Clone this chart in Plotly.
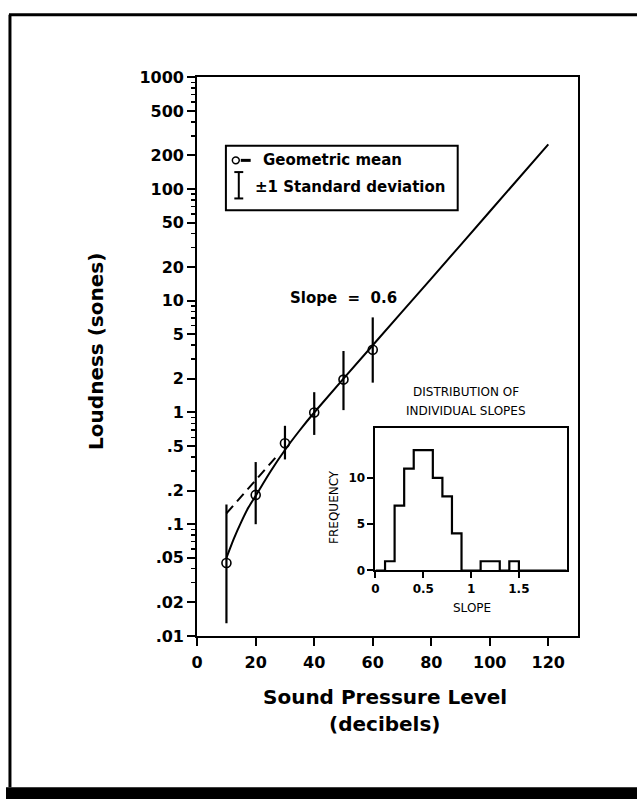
import plotly.graph_objects as go

W, H = 637, 809

# ---------------- data ----------------
spl_db = [10, 20, 30, 40, 50, 60]
mean_sones = [0.045, 0.183, 0.53, 1.0, 1.97, 3.65]
sd_low = [0.013, 0.10, 0.38, 0.63, 1.05, 1.85]
sd_high = [0.15, 0.36, 0.76, 1.52, 3.55, 7.1]

fit_db = [10, 12.5, 15, 17.5, 20, 25, 30, 35, 40, 60, 80, 100, 120]
fit_sones = [0.05, 0.074, 0.104, 0.141, 0.18, 0.295, 0.462, 0.69, 1.0, 4.0, 15.8, 63.0, 251.0]

ext_db = [10, 28]
ext_sones = [0.125, 0.43]

slope_bin_edges = [0.0, 0.1, 0.2, 0.3, 0.4, 0.5, 0.6, 0.7, 0.8, 0.9, 1.0,
                   1.1, 1.2, 1.3, 1.4, 1.5, 1.6, 1.7, 1.8, 1.9, 2.0]
slope_counts = [0, 1, 7, 11, 13, 13, 10, 8, 4, 0, 0, 1, 1, 0, 1, 0, 0, 0, 0, 0]

y_tick_vals = [0.01, 0.02, 0.05, 0.1, 0.2, 0.5, 1, 2, 5, 10, 20, 50, 100, 200, 500, 1000]
y_tick_text = [".01", ".02", ".05", ".1", ".2", ".5", "1", "2", "5", "10", "20", "50",
               "100", "200", "500", "1000"]
y_minor_mantissas = [3, 4, 6, 7, 8, 9]
y_decades = [0.01, 0.1, 1, 10, 100]
x_tick_vals = [0, 20, 40, 60, 80, 100, 120]
inset_x_ticks = [0, 0.5, 1, 1.5]
inset_x_text = ["0", "0.5", "1", "1.5"]
inset_y_ticks = [0, 5, 10]

# ---------------- helpers: window pixel -> paper fraction ----------------
def px(x):
    return x / W

def py(y):
    return 1 - y / H

BOLD = dict(family="DejaVu Sans", color="black", weight="bold")

fig = go.Figure()

fig.add_trace(go.Scatter(x=fit_db, y=fit_sones, mode="lines",
                         line=dict(color="black", width=2, shape="spline", smoothing=0.6),
                         xaxis="x", yaxis="y", hoverinfo="skip"))
fig.add_trace(go.Scatter(x=ext_db, y=ext_sones, mode="lines",
                         line=dict(color="black", width=2, dash="10px,6px"),
                         xaxis="x", yaxis="y", hoverinfo="skip"))
fig.add_trace(go.Scatter(
    x=spl_db, y=mean_sones, mode="markers",
    marker=dict(symbol="circle-open", size=9, color="black", line=dict(width=1.6, color="black")),
    error_y=dict(type="data", symmetric=False,
                 array=[h - m for h, m in zip(sd_high, mean_sones)],
                 arrayminus=[m - l for m, l in zip(mean_sones, sd_low)],
                 width=0, thickness=2.2, color="black"),
    xaxis="x", yaxis="y", hoverinfo="skip"))

fig.add_trace(go.Scatter(x=slope_bin_edges, y=slope_counts + [slope_counts[-1]],
                         mode="lines", line=dict(color="black", width=2.2, shape="hv"),
                         xaxis="x2", yaxis="y2", hoverinfo="skip"))

minor_vals = [d * m for d in y_decades for m in y_minor_mantissas]

fig.update_layout(
    width=W, height=H, margin=dict(l=0, r=0, t=0, b=0),
    paper_bgcolor="white", plot_bgcolor="white", showlegend=False,
    hovermode=False,
    xaxis=dict(domain=[px(193), px(577)], range=[0, 130], anchor="y",
               tickmode="array", tickvals=x_tick_vals, ticks="outside", ticklen=8,
               tickwidth=2, tickcolor="black", showline=True, linewidth=2,
               linecolor="black", mirror=True, showgrid=False, zeroline=False,
               tickfont=dict(size=16, **BOLD), ticklabelstandoff=3),
    yaxis=dict(domain=[py(642), py(70)], type="log", range=[-2, 3], anchor="x",
               tickmode="array", tickvals=y_tick_vals, ticktext=y_tick_text,
               ticks="outside", ticklen=8, tickwidth=2, tickcolor="black",
               minor=dict(tickmode="array", tickvals=minor_vals, ticks="outside",
                          ticklen=4, tickwidth=1.5, tickcolor="black", showgrid=False),
               showline=True, linewidth=2, linecolor="black", mirror=True,
               showgrid=False, zeroline=False,
               tickfont=dict(size=16, **BOLD)),
    xaxis2=dict(domain=[px(373), px(566)], range=[0, 2.0], anchor="y2",
                tickmode="array", tickvals=inset_x_ticks, ticktext=inset_x_text,
                ticks="outside", ticklen=6, tickwidth=2, tickcolor="black",
                showline=True, linewidth=2, linecolor="black", mirror=True,
                showgrid=False, zeroline=False,
                tickfont=dict(size=12, **BOLD)),
    yaxis2=dict(domain=[py(575), py(429)], range=[0, 15.4], anchor="x2",
                tickmode="array", tickvals=inset_y_ticks,
                ticks="outside", ticklen=6, tickwidth=2, tickcolor="black",
                showline=True, linewidth=2, linecolor="black", mirror=True,
                showgrid=False, zeroline=False,
                tickfont=dict(size=12, **BOLD)),
)

shapes = []
# outer frame
shapes.append(dict(type="line", xref="paper", yref="paper", x0=px(3), x1=1, y0=py(6), y1=py(6),
                   line=dict(color="black", width=3)))
shapes.append(dict(type="line", xref="paper", yref="paper", x0=px(4), x1=px(4), y0=py(6), y1=py(797),
                   line=dict(color="black", width=3)))
shapes.append(dict(type="rect", xref="paper", yref="paper", x0=0, x1=1, y0=py(809), y1=py(797),
                   fillcolor="black", line=dict(width=0)))
# legend box
shapes.append(dict(type="rect", xref="paper", yref="paper", x0=px(222), x1=px(456),
                   y0=py(206), y1=py(140), line=dict(color="black", width=2)))
shapes.append(dict(type="circle", xref="paper", yref="paper", x0=px(228.5), x1=px(235.5),
                   y0=py(158.5), y1=py(151.5), line=dict(color="black", width=1.5)))
shapes.append(dict(type="line", xref="paper", yref="paper", x0=px(237), x1=px(247),
                   y0=py(155), y1=py(155), line=dict(color="black", width=3)))
shapes.append(dict(type="line", xref="paper", yref="paper", x0=px(235), x1=px(235),
                   y0=py(167), y1=py(194), line=dict(color="black", width=2)))
shapes.append(dict(type="line", xref="paper", yref="paper", x0=px(230.5), x1=px(239.5),
                   y0=py(167), y1=py(167), line=dict(color="black", width=2)))
shapes.append(dict(type="line", xref="paper", yref="paper", x0=px(230.5), x1=px(239.5),
                   y0=py(194), y1=py(194), line=dict(color="black", width=2)))
fig.update_layout(shapes=shapes)

ann = []
def text(x, y, s, size, font=None, xanchor="center", angle=0):
    f = dict(size=size, **(font or BOLD))
    ann.append(dict(xref="paper", yref="paper", x=px(x), y=py(y), text=s, showarrow=False,
                    xanchor=xanchor, yanchor="middle", font=f, textangle=angle))

REG = dict(family="DejaVu Sans", color="black")
text(257, 155, "Geometric mean", 15, xanchor="left")
text(249, 182, "±1 Standard deviation", 15, xanchor="left")
text(341, 296, "Slope  =  0.6", 15)
text(91, 351, "Loudness (sones)", 20, angle=-90)
text(383, 705, "Sound Pressure Level", 20)
text(383, 732, "(decibels)", 20)
text(464, 392, "DISTRIBUTION OF", 12, font=REG)
text(464, 412, "INDIVIDUAL SLOPES", 12, font=REG)
text(470, 613, "SLOPE", 12, font=REG)
text(331, 510, "FREQUENCY", 12, font=REG, angle=-90)
fig.update_layout(annotations=ann)

page_fix = (
    "var s=document.createElement('style');"
    "s.textContent='html,body{margin:0!important;padding:0!important;overflow:hidden!important;}';"
    "document.head.appendChild(s);"
)

fig.write_html("out.html", config={"displayModeBar": False, "staticPlot": True},
               post_script=page_fix)
